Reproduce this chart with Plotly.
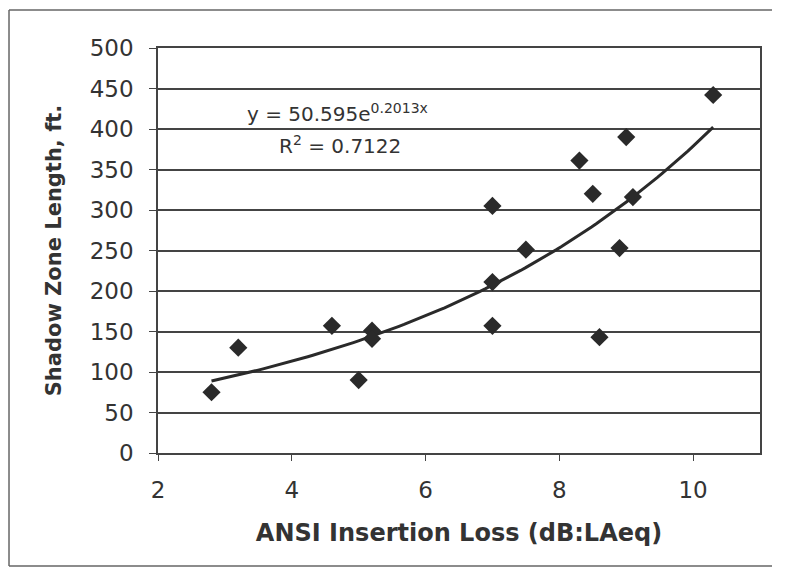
import numpy as np
import plotly.graph_objects as go

# Data
insertion_loss = [2.8, 3.2, 4.6, 5.0, 5.2, 5.2, 7.0, 7.0, 7.0, 7.5, 8.3, 8.5, 8.6, 8.9, 9.0, 9.1, 10.3]
shadow_length = [75, 130, 157, 90, 151, 141, 305, 211, 157, 251, 361, 320, 143, 253, 390, 316, 442]

# Exponential trendline coefficients shown on the chart
TREND_A = 50.595
TREND_B = 0.2013
R2 = 0.7122

x_ticks = [2, 4, 6, 8, 10]
y_ticks = [0, 50, 100, 150, 200, 250, 300, 350, 400, 450, 500]

tx = np.linspace(min(insertion_loss), max(insertion_loss), 100)
ty = TREND_A * np.exp(TREND_B * tx)

TXT = "#333333"
GRID = "#444444"
FONT = "DejaVu Sans"
FRAME = dict(color="#666666", width=1.5)

fig = go.Figure()
fig.add_trace(go.Scatter(x=tx, y=ty, mode="lines",
                         line=dict(color="#2a2a2a", width=3), hoverinfo="skip",
                         showlegend=False))
fig.add_trace(go.Scatter(x=insertion_loss, y=shadow_length, mode="markers",
                         marker=dict(symbol="diamond", size=14, color="#2a2a2a"),
                         showlegend=False))

fig.update_layout(
    width=775, height=559,
    margin=dict(l=150, r=23, t=40, b=114),
    paper_bgcolor="white", plot_bgcolor="white",
    font=dict(family=FONT, color=TXT),
    xaxis=dict(range=[2, 11], tickvals=x_ticks, ticktext=[str(v) for v in x_ticks],
               showgrid=False, zeroline=False, showline=True, linecolor=GRID, linewidth=1.6,
               mirror=True, ticks="outside", ticklen=6, tickcolor=GRID, tickwidth=1.2,
               ticklabelstandoff=10,
               tickfont=dict(size=23, family=FONT, color=TXT),
               title=dict(text="<b>ANSI Insertion Loss (dB:LAeq)</b>",
                          font=dict(size=24, family=FONT, color=TXT), standoff=22)),
    yaxis=dict(range=[0, 500], tickvals=y_ticks, ticktext=[str(v) for v in y_ticks],
               showgrid=True, gridcolor=GRID, gridwidth=1.6, zeroline=False,
               showline=True, linecolor=GRID, linewidth=1.6, mirror=True,
               ticks="outside", ticklen=7, tickcolor=GRID, tickwidth=1.2,
               ticklabelstandoff=11,
               tickfont=dict(size=23, family=FONT, color=TXT),
               title=dict(text="<b>Shadow Zone Length, ft.</b>",
                          font=dict(size=21, family=FONT, color=TXT), standoff=22)),
    annotations=[
        dict(text="y = %.3fe<sup>%.4fx</sup>" % (TREND_A, TREND_B), xref="paper", yref="paper",
             x=0.299, y=0.84, xanchor="center", yanchor="middle", showarrow=False,
             font=dict(size=20, family=FONT, color=TXT)),
        dict(text="R<sup>2</sup> = %.4f" % R2, xref="paper", yref="paper",
             x=0.303, y=0.76, xanchor="center", yanchor="middle", showarrow=False,
             font=dict(size=20, family=FONT, color=TXT)),
    ],
    shapes=[
        dict(type="line", xref="paper", yref="paper", x0=-0.2475, x1=-0.2475,
             y0=-0.279, y1=1.094, line=FRAME),
        dict(type="line", xref="paper", yref="paper", x0=-0.2475, x1=1.02,
             y0=1.094, y1=1.094, line=FRAME),
        dict(type="line", xref="paper", yref="paper", x0=-0.2475, x1=1.02,
             y0=-0.279, y1=-0.279, line=FRAME),
    ],
)

fig.write_html("out.html")
